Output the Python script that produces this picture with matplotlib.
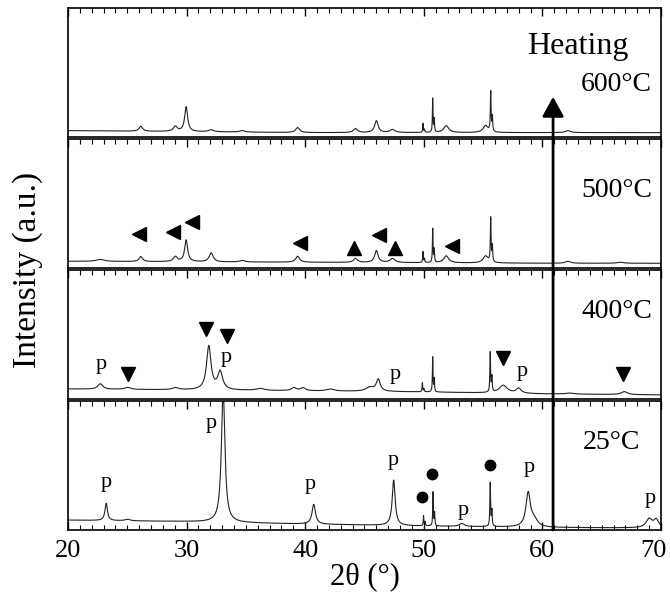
import numpy as np
import matplotlib
matplotlib.use('Agg')
import matplotlib.pyplot as plt
from matplotlib.ticker import MultipleLocator
from matplotlib.transforms import ScaledTranslation

plt.rcParams['font.family'] = ['Liberation Serif', 'DejaVu Serif']

# background level (a.u.) at these 2theta anchors, per temperature
bg_x = [20, 30, 40, 50, 60, 70]
bg_600 = [6, 5, 4, 4, 4, 4]
bg_500 = [6.5, 6, 5.5, 5, 4.5, 4.5]
bg_400 = [10, 9, 8, 7, 5, 4]
bg_25 = [10, 8.5, 6, 4, 2.5, 2]

# peaks: position (deg), height (a.u.), FWHM (deg)
pos_600 = [26.14, 29.05, 29.96, 32.07, 34.69, 39.36, 44.24, 46.0, 47.36, 49.93, 50.06, 50.75, 50.88, 51.89, 55.21, 55.64, 55.78, 62.15]
hgt_600 = [5, 5, 25, 2, 1.5, 5, 4, 12, 3, 9, 3, 34, 13, 7, 7, 40, 15, 2]
wid_600 = [0.35, 0.4, 0.3, 0.5, 0.5, 0.4, 0.4, 0.35, 0.5, 0.06, 0.06, 0.06, 0.06, 0.5, 0.5, 0.07, 0.07, 0.5]

pos_500 = [22.72, 26.14, 29.05, 29.96, 32.07, 34.69, 39.36, 44.24, 46.0, 47.36, 49.93, 50.06, 50.75, 50.88, 51.89, 55.21, 55.64, 55.78, 62.15, 66.57]
hgt_500 = [2, 5, 5, 22, 9, 1.5, 6, 4, 12, 4, 11, 4, 34, 13, 7, 7, 44, 16, 2, 1]
wid_500 = [0.8, 0.35, 0.4, 0.3, 0.4, 0.5, 0.4, 0.4, 0.35, 0.5, 0.06, 0.06, 0.06, 0.06, 0.5, 0.5, 0.07, 0.07, 0.5, 0.6]

pos_400 = [22.72, 25.03, 29.05, 31.87, 32.83, 36.2, 39.05, 39.82, 42.13, 45.45, 46.16, 49.88, 50.01, 50.75, 50.88, 55.6, 55.74, 56.7, 58.0, 62.3, 66.9]
hgt_400 = [5.5, 2, 2, 44, 18, 2, 3, 3, 2, 4, 12, 9, 3, 35, 13, 40, 15, 8, 5, 1, 3]
wid_400 = [0.5, 0.6, 0.6, 0.45, 0.5, 0.8, 0.5, 0.5, 0.8, 0.8, 0.4, 0.06, 0.06, 0.06, 0.06, 0.07, 0.07, 0.8, 0.5, 0.8, 0.6]

pos_25 = [23.22, 25.03, 33.08, 40.72, 47.46, 49.98, 50.11, 50.78, 50.91, 53.2, 55.6, 55.74, 58.8, 59.3, 69.0, 69.6]
hgt_25 = [17.5, 1.5, 135, 20, 46, 10, 4, 34, 13, 3, 44, 16, 34, 7, 9, 8]
wid_25 = [0.25, 0.5, 0.35, 0.35, 0.3, 0.06, 0.06, 0.06, 0.06, 0.5, 0.07, 0.07, 0.45, 0.7, 0.6, 0.5]

temps = ['600°C', '500°C', '400°C', '25°C']

# phase markers (2theta, a.u.)
left_500_x = [25.99, 28.85, 30.46, 39.52, 46.26, 52.39]
left_500_y = [34, 36, 46, 25, 33, 22]
up_500_x = [44.14, 47.56]
up_500_y = [20, 20]
down_400_x = [25.08, 31.67, 33.43, 56.7, 66.8]
down_400_y = [25, 71, 64, 41, 25]
p_400_x = [22.82, 33.38, 47.56, 58.3]
p_400_y = [35, 42, 25, 28]
p_25_x = [23.22, 32.07, 40.42, 47.46, 53.3, 58.85, 69.1]
p_25_y = [48, 108, 46, 70, 20, 63, 32]
dot_25_x = [49.88, 50.68, 55.6]
dot_25_y = [33, 57, 66]

two_theta = np.arange(20, 70.001, 0.01)


def pattern(pos, hgt, wid, bg):
    y = np.interp(two_theta, bg_x, bg)
    for p, h, w in zip(pos, hgt, wid):
        y = y + h / (1 + ((two_theta - p) / (w / 2)) ** 2)
    return y


curves = [pattern(pos_600, hgt_600, wid_600, bg_600),
          pattern(pos_500, hgt_500, wid_500, bg_500),
          pattern(pos_400, hgt_400, wid_400, bg_400),
          pattern(pos_25, hgt_25, wid_25, bg_25)]

fig, axes = plt.subplots(4, 1, sharex=True, figsize=(6.7, 6.02), dpi=100,
                         gridspec_kw=dict(hspace=0.02))
fig.subplots_adjust(left=68/670, right=661/670, top=1-8/602, bottom=1-530/602)

label_x = [69.24, 69.24, 69.24, 68.23]
label_y = [0.354, 0.552, 0.63, 0.63]

for i, ax in enumerate(axes):
    ax.plot(two_theta, curves[i], color='#222222', lw=0.8)
    ax.set_xlim(20, 70)
    ax.set_ylim(0, 130)
    ax.set_yticks([])
    ax.xaxis.set_major_locator(MultipleLocator(10))
    ax.xaxis.set_minor_locator(MultipleLocator(1))
    last = i == len(axes) - 1
    ax.tick_params(axis='x', which='both', direction='in', top=True,
                   bottom=last, labelbottom=last, labelsize=19, pad=7)
    ax.tick_params(axis='x', which='major', length=6, width=1.0)
    ax.tick_params(axis='x', which='minor', length=3.5, width=0.8)
    for s in ax.spines.values():
        s.set_linewidth(1.2)
    ax.text(label_x[i], label_y[i], temps[i], transform=ax.get_xaxis_transform(),
            ha='right', va='baseline', fontsize=20)

ms_tri = 10
axes[1].plot(left_500_x, left_500_y, '<', color='k', ms=ms_tri, ls='none')
axes[1].plot(up_500_x, up_500_y, '^', color='k', ms=ms_tri, ls='none')
axes[2].plot(down_400_x, down_400_y, 'v', color='k', ms=ms_tri, ls='none')
axes[3].plot(dot_25_x, dot_25_y, 'o', color='k', ms=7.5, ls='none')
for x, y in zip(p_400_x, p_400_y):
    axes[2].text(x, y, 'p', ha='center', va='center', fontsize=16)
for x, y in zip(p_25_x, p_25_y):
    axes[3].text(x, y, 'p', ha='center', va='center', fontsize=16)

axes[0].text(63.0, 0.64, 'Heating', transform=axes[0].get_xaxis_transform(),
             ha='center', va='baseline', fontsize=23)

# heating arrow running up through all panels
ax_b = axes[-1]
ax_b.annotate('', xy=(60.9, (530 - 92) / 130), xytext=(60.9, 0),
              xycoords=ax_b.get_xaxis_transform(), textcoords=ax_b.get_xaxis_transform(),
              annotation_clip=False,
              arrowprops=dict(arrowstyle='-|>,head_length=0.6,head_width=0.33',
                              lw=2, color='k', mutation_scale=20, shrinkA=0, shrinkB=0))

ax_b.set_xlabel('2θ (°)', fontsize=22, labelpad=0)
fig.text(28/670, 1 - 270/602, 'Intensity (a.u.)', rotation=90, ha='center', va='center',
         fontsize=24)

# the "70" label sits a little inside the right edge
fig.canvas.draw()
for tick in ax_b.xaxis.get_major_ticks():
    if tick.label1.get_text() == '70':
        tick.label1.set_transform(tick.label1.get_transform()
                                  + ScaledTranslation(-0.08, 0, fig.dpi_scale_trans))

fig.savefig('out.png', dpi=100)
